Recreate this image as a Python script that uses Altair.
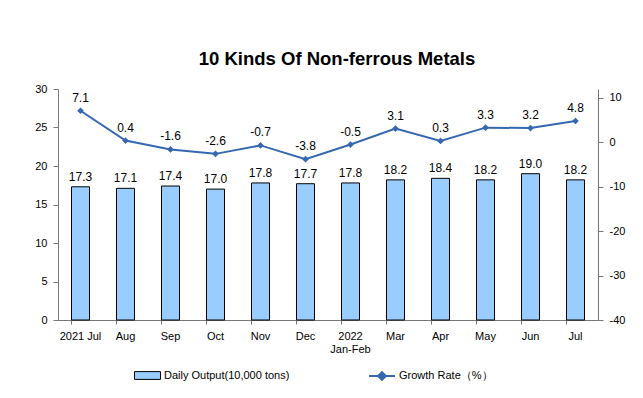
import altair as alt
import pandas as pd

months = ["2021 Jul", "Aug", "Sep", "Oct", "Nov", "Dec", "2022|Jan-Feb",
          "Mar", "Apr", "May", "Jun", "Jul"]
daily_output = [17.3, 17.1, 17.4, 17.0, 17.8, 17.7, 17.8, 18.2, 18.4, 18.2, 19.0, 18.2]
growth_rate = [7.1, 0.4, -1.6, -2.6, -0.7, -3.8, -0.5, 3.1, 0.3, 3.3, 3.2, 4.8]

bar_name = "Daily Output(10,000 tons)"
line_name = "Growth Rate（%）"

df = pd.DataFrame({
    "month": months,
    "output": daily_output,
    "growth": growth_rate,
    "bseries": [bar_name] * len(months),
    "lseries": [line_name] * len(months),
})

FONT = "Liberation Sans"
BAR_COLOR = "#99CCFF"
LINE_COLOR = "#3568B0"
AXIS_COLOR = "#777777"

x = alt.X("month:N", sort=months, title=None,
          scale=alt.Scale(paddingInner=0.6, paddingOuter=0.3),
          axis=alt.Axis(labelAngle=0, labelExpr="split(datum.label, '|')",
                        labelFontSize=11, labelColor="black", labelPadding=6,
                        domainColor=AXIS_COLOR, tickColor=AXIS_COLOR,
                        tickSize=4, bandPosition=0, labelFont=FONT))

y_left = alt.Y("output:Q", title=None,
               scale=alt.Scale(domain=[0, 30], nice=False),
               axis=alt.Axis(values=[0, 5, 10, 15, 20, 25, 30], grid=False,
                             labelFontSize=11, labelColor="black", labelFont=FONT,
                             domainColor=AXIS_COLOR, tickColor=AXIS_COLOR, tickSize=5,
                             labelPadding=6))

y_right = alt.Y("growth:Q", title=None,
                scale=alt.Scale(domain=[-40, 12], nice=False, zero=False),
                axis=alt.Axis(orient="right", values=[-40, -30, -20, -10, 0, 10],
                              labelExpr="replace(datum.label, '\u2212', '-')",
                              grid=False, labelFontSize=11, labelColor="black",
                              labelFont=FONT, domainColor=AXIS_COLOR,
                              tickColor=AXIS_COLOR, tickSize=5, labelPadding=6))

bar_path = "M-1,-0.3L1,-0.3L1,0.3L-1,0.3Z"
line_path = "M-1,0L1,0M0,-0.3L0.3,0L0,0.3L-0.3,0Z"

bars = alt.Chart(df).mark_bar(stroke="black", strokeWidth=1).encode(
    x=x, y=y_left,
    fill=alt.Fill("bseries:N", scale=alt.Scale(domain=[bar_name], range=[BAR_COLOR]),
                  legend=alt.Legend(title=None, orient="none", legendX=76, legendY=273,
                                    symbolType=bar_path, symbolSize=676,
                                    symbolStrokeColor="black", symbolStrokeWidth=1,
                                    labelFontSize=11, labelFont=FONT, labelColor="black",
                                    labelOffset=3, padding=0, symbolOpacity=1)),
)
bar_text = alt.Chart(df).mark_text(baseline="bottom", dy=-3, fontSize=12,
                                   font=FONT, color="black").encode(
    x=x, y=y_left, text=alt.Text("output:Q", format=".1f"))

left = alt.layer(bars, bar_text)

line = alt.Chart(df).mark_line(strokeWidth=2).encode(
    x=x, y=y_right,
    stroke=alt.Stroke("lseries:N", scale=alt.Scale(domain=[line_name], range=[LINE_COLOR]),
                      legend=alt.Legend(title=None, orient="none", legendX=310, legendY=273,
                                        symbolType=line_path, symbolSize=676,
                                        symbolFillColor=LINE_COLOR, symbolStrokeWidth=2,
                                        labelFontSize=11, labelFont=FONT, labelColor="black",
                                        labelOffset=3, padding=0)),
)
points = alt.Chart(df).mark_point(shape="diamond", filled=True, size=45,
                                  color=LINE_COLOR, opacity=1).encode(x=x, y=y_right)
line_text = alt.Chart(df).transform_calculate(
    glabel="replace(format(datum.growth, '.1f'), '\u2212', '-')"
).mark_text(baseline="bottom", dy=-6, fontSize=12, font=FONT, color="black").encode(
    x=x, y=y_right, text="glabel:N")

right = alt.layer(line, points, line_text)

chart = alt.layer(left, right).resolve_scale(
    y="independent", fill="independent", stroke="independent"
).properties(
    width=540, height=231,
    autosize=alt.AutoSizeParams(type="none"),
    padding={"left": 50, "top": 81, "right": 37, "bottom": 70},
    title=alt.TitleParams("10 Kinds Of Non-ferrous Metals", font=FONT, fontSize=18.5,
                          fontWeight="bold", color="black", anchor="middle",
                          offset=15, dx=9),
).configure_view(stroke=None)

chart.save("out.html", embed_options={"renderer": "svg", "actions": False})
